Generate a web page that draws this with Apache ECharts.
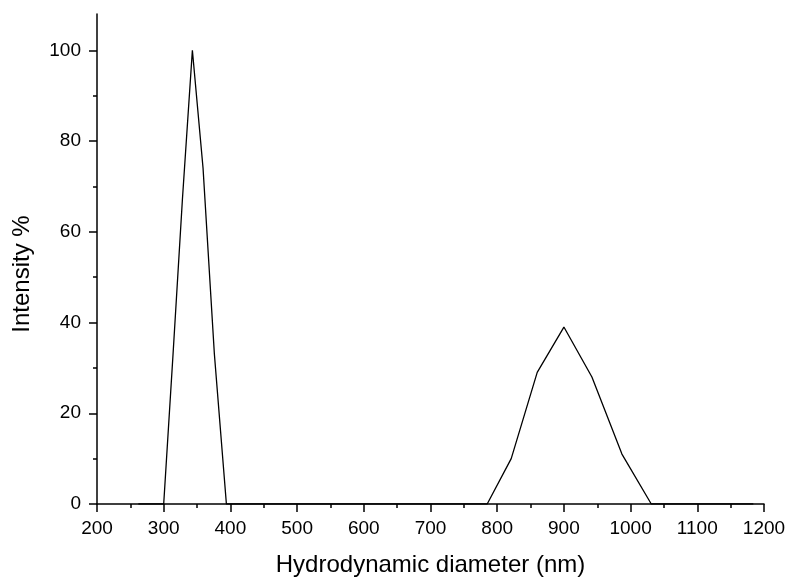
<!DOCTYPE html>
<html>
<head>
<meta charset="utf-8">
<script src="https://cdn.jsdelivr.net/npm/echarts@6/dist/echarts.min.js"></script>
<style>
html, body { margin: 0; padding: 0; background: #ffffff; }
#chart { width: 787px; height: 577px; }
</style>
</head>
<body>
<div id="chart"></div>
<script>
// size bins (nm) and intensity
var diameter = [262, 274, 287, 300, 314, 328, 343, 359, 376, 394, 412, 432, 452, 473, 495, 518, 543, 568, 595, 623, 652, 683, 715, 749, 785, 821, 860, 900, 942, 987, 1031, 1080, 1131, 1184];
var intensity = [0, 0, 0, 0, 33, 67, 100, 74, 33, 0, 0, 0, 0, 0, 0, 0, 0, 0, 0, 0, 0, 0, 0, 0, 0, 10, 29, 39, 28, 11, 0, 0, 0, 0];
var yMajor = [0, 20, 40, 60, 80, 100];
var yMinor = [10, 30, 50, 70, 90];

var points = [];
for (var i = 0; i < diameter.length; i++) {
	points.push([diameter[i], intensity[i]]);
}

var font = 'Liberation Sans, Arial, sans-serif';
var dom = document.getElementById('chart');
var myChart = echarts.init(dom, null, { renderer: 'canvas' });

var option = {
	backgroundColor: '#ffffff',
	animation: false,
	grid: {
		left: 97,
		right: 23,
		top: 14,
		bottom: 73,
		outerBoundsMode: 'none',
		containLabel: false
	},
	xAxis: {
		type: 'value',
		min: 200,
		max: 1200,
		interval: 100,
		name: 'Hydrodynamic diameter (nm)',
		nameLocation: 'middle',
		nameGap: 49,
		nameTextStyle: { fontFamily: font, fontSize: 24, color: '#000' },
		axisLine: { show: true, onZero: false, lineStyle: { color: '#000', width: 1.5 } },
		axisTick: { show: true, inside: false, length: 8, lineStyle: { color: '#000', width: 1.5 } },
		minorTick: { show: true, splitNumber: 2, length: 4, lineStyle: { color: '#000', width: 1.5 } },
		axisLabel: {
			fontFamily: font, fontSize: 19, color: '#000', margin: 15,
			formatter: function (v) { return String(v); }
		},
		splitLine: { show: false }
	},
	yAxis: [{
		type: 'value',
		min: 0,
		max: 108,
		name: 'Intensity %',
		nameLocation: 'middle',
		nameGap: 63,
		//名字在原图中略偏下
		nameTextStyle: { fontFamily: font, fontSize: 24, color: '#000', padding: [0, 30, 0, 0] },
		axisLine: { show: true, lineStyle: { color: '#000', width: 1.5 } },
		axisTick: { show: true, length: 8, customValues: yMajor, lineStyle: { color: '#000', width: 1.5 } },
		axisLabel: { fontFamily: font, fontSize: 19, color: '#000', margin: 16, customValues: yMajor },
		splitLine: { show: false }
	}, {
		// second axis only to draw the minor ticks
		type: 'value',
		position: 'left',
		min: 0,
		max: 108,
		axisLine: { show: false },
		axisTick: { show: true, length: 4, customValues: yMinor, lineStyle: { color: '#000', width: 1.5 } },
		axisLabel: { show: false },
		splitLine: { show: false }
	}],
	series: [{
		type: 'line',
		data: points,
		symbol: 'none',
		smooth: false,
		lineStyle: { color: '#000', width: 1.3 }
	}]
};
myChart.setOption(option);
</script>
</body>
</html>
